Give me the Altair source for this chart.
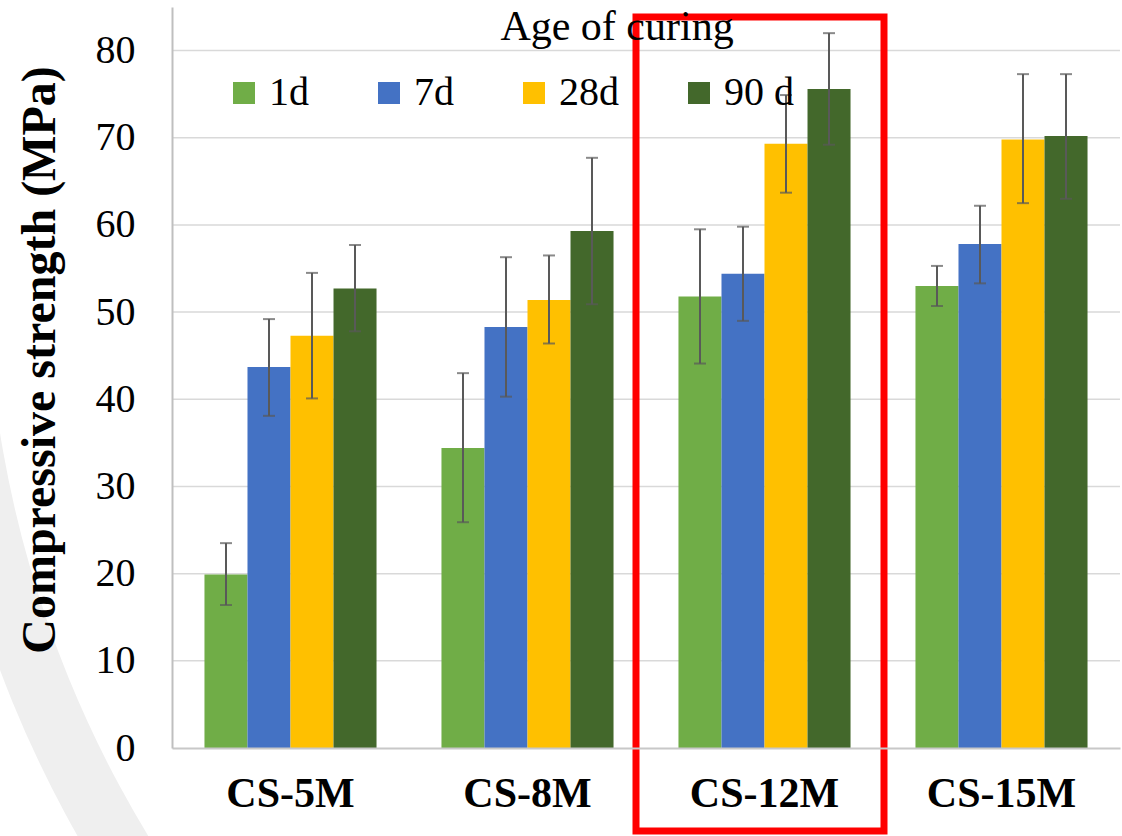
import altair as alt
import pandas as pd

groups = ["CS-5M", "CS-8M", "CS-12M", "CS-15M"]
ages = ["1d", "7d", "28d", "90 d"]
colors = ["#70AD47", "#4472C4", "#FFC000", "#43682B"]

mean_1d = [19.9, 34.4, 51.8, 53.0]
lo_1d = [16.4, 25.9, 44.1, 50.7]
hi_1d = [23.5, 43.0, 59.5, 55.3]

mean_7d = [43.7, 48.3, 54.4, 57.8]
lo_7d = [38.1, 40.3, 49.0, 53.3]
hi_7d = [49.2, 56.3, 59.8, 62.2]

mean_28d = [47.3, 51.4, 69.3, 69.8]
lo_28d = [40.1, 46.4, 63.7, 62.5]
hi_28d = [54.5, 56.5, 74.9, 77.3]

mean_90d = [52.7, 59.3, 75.6, 70.2]
lo_90d = [47.8, 50.9, 69.2, 63.0]
hi_90d = [57.7, 67.7, 82.0, 77.3]

y_ticks = [0, 10, 20, 30, 40, 50, 60, 70, 80]
y_title = "Compressive strength (MPa)"
legend_title = "Age of curing"

means = [mean_1d, mean_7d, mean_28d, mean_90d]
los = [lo_1d, lo_7d, lo_28d, lo_90d]
his = [hi_1d, hi_7d, hi_28d, hi_90d]

rows = []
for age, m, l, h in zip(ages, means, los, his):
    for g, mv, lv, hv in zip(groups, m, l, h):
        rows.append({"group": g, "age": age, "mean": mv, "lo": lv, "hi": hv})
df = pd.DataFrame(rows)
grid_df = pd.DataFrame({"tick": y_ticks[1:]})
one = pd.DataFrame({"a": [0]})

FONT = "Liberation Serif"

yscale = alt.Scale(domain=[0, 85], nice=False, zero=True)
xscale = alt.Scale(domain=groups, paddingInner=0.274, paddingOuter=0.137)
xoff = alt.Scale(domain=ages, paddingInner=0, paddingOuter=0)

y_axis = alt.Axis(
    title=None, values=y_ticks, grid=False, ticks=False, tickSize=0,
    labelPadding=37, labelFont=FONT, labelFontSize=40, labelColor="black",
    domainColor="#bfbfbf", domainWidth=2, zindex=1,
)
x_axis = alt.Axis(
    title=None, labelFont=FONT, labelFontSize=42, labelFontWeight="bold", labelColor="black",
    labelPadding=58, labelBaseline="alphabetic", ticks=False, tickSize=0, labelAngle=0,
    domainColor="#c8c8c8", domainWidth=2, grid=False, zindex=1,
)

X = alt.X("group:N", scale=xscale, sort=groups, axis=x_axis)
XO = alt.XOffset("age:N", scale=xoff, sort=ages)

arc = alt.Chart(one).mark_arc(
    radius=1175, radius2=1114, theta=3.9, theta2=4.75, color="#efefef"
).encode(x=alt.value(928), y=alt.value(250))

grid = alt.Chart(grid_df).mark_rule(color="#d9d9d9", strokeWidth=1.5).encode(
    y=alt.Y("tick:Q", scale=yscale, axis=y_axis)
)

bars = alt.Chart(df).mark_bar().encode(
    x=X,
    xOffset=XO,
    y=alt.Y("mean:Q", scale=yscale, axis=y_axis),
    color=alt.Color(
        "age:N", sort=ages, scale=alt.Scale(domain=ages, range=colors),
        legend=alt.Legend(
            title=None, orient="none", legendX=52, legendY=66, direction="horizontal",
            columns=4, symbolType="square", symbolSize=484, symbolStrokeWidth=0,
            labelFont=FONT, labelFontSize=40, labelColor="black", labelOffset=5,
            columnPadding=60, padding=0, labelLimit=0,
        ),
    ),
)

err = alt.Chart(df).mark_rule(color="#595959", strokeWidth=2).encode(
    x=X, xOffset=XO,
    y=alt.Y("lo:Q", scale=yscale, axis=y_axis), y2="hi:Q",
)
cap_lo = alt.Chart(df).mark_tick(color="#595959", thickness=2, size=12).encode(
    x=X, xOffset=XO, y=alt.Y("lo:Q", scale=yscale, axis=y_axis)
)
cap_hi = alt.Chart(df).mark_tick(color="#595959", thickness=2, size=12).encode(
    x=X, xOffset=XO, y=alt.Y("hi:Q", scale=yscale, axis=y_axis)
)

box = alt.Chart(one).mark_rect(fill="white", fillOpacity=0, stroke="#FF0000", strokeWidth=7).encode(
    x=alt.value(464), x2=alt.value(712), y=alt.value(10), y2=alt.value(824)
)

title = alt.Chart(one).mark_text(
    text=legend_title, font=FONT, fontSize=42, color="black", align="center", baseline="alphabetic"
).encode(x=alt.value(445), y=alt.value(33))

ytitle = alt.Chart(one).mark_text(
    text=y_title, font=FONT, fontSize=48, fontWeight="bold", color="black",
    align="center", baseline="alphabetic", angle=270,
).encode(x=alt.value(-117), y=alt.value(353))

chart = alt.layer(arc, grid, bars, err, cap_lo, cap_hi, box, title, ytitle).properties(
    width=948, height=741,
    autosize=alt.AutoSizeParams(type="none"),
    padding={"left": 172, "top": 7, "right": 2, "bottom": 88},
    background="white",
).configure(
    font=FONT
).configure_axis(
    labelFont=FONT, titleFont=FONT
).configure_legend(
    labelFont=FONT, titleFont=FONT
).configure_text(
    font=FONT
).configure_view(strokeWidth=0)

chart.save("out.html", embed_options={"renderer": "svg", "actions": False})
